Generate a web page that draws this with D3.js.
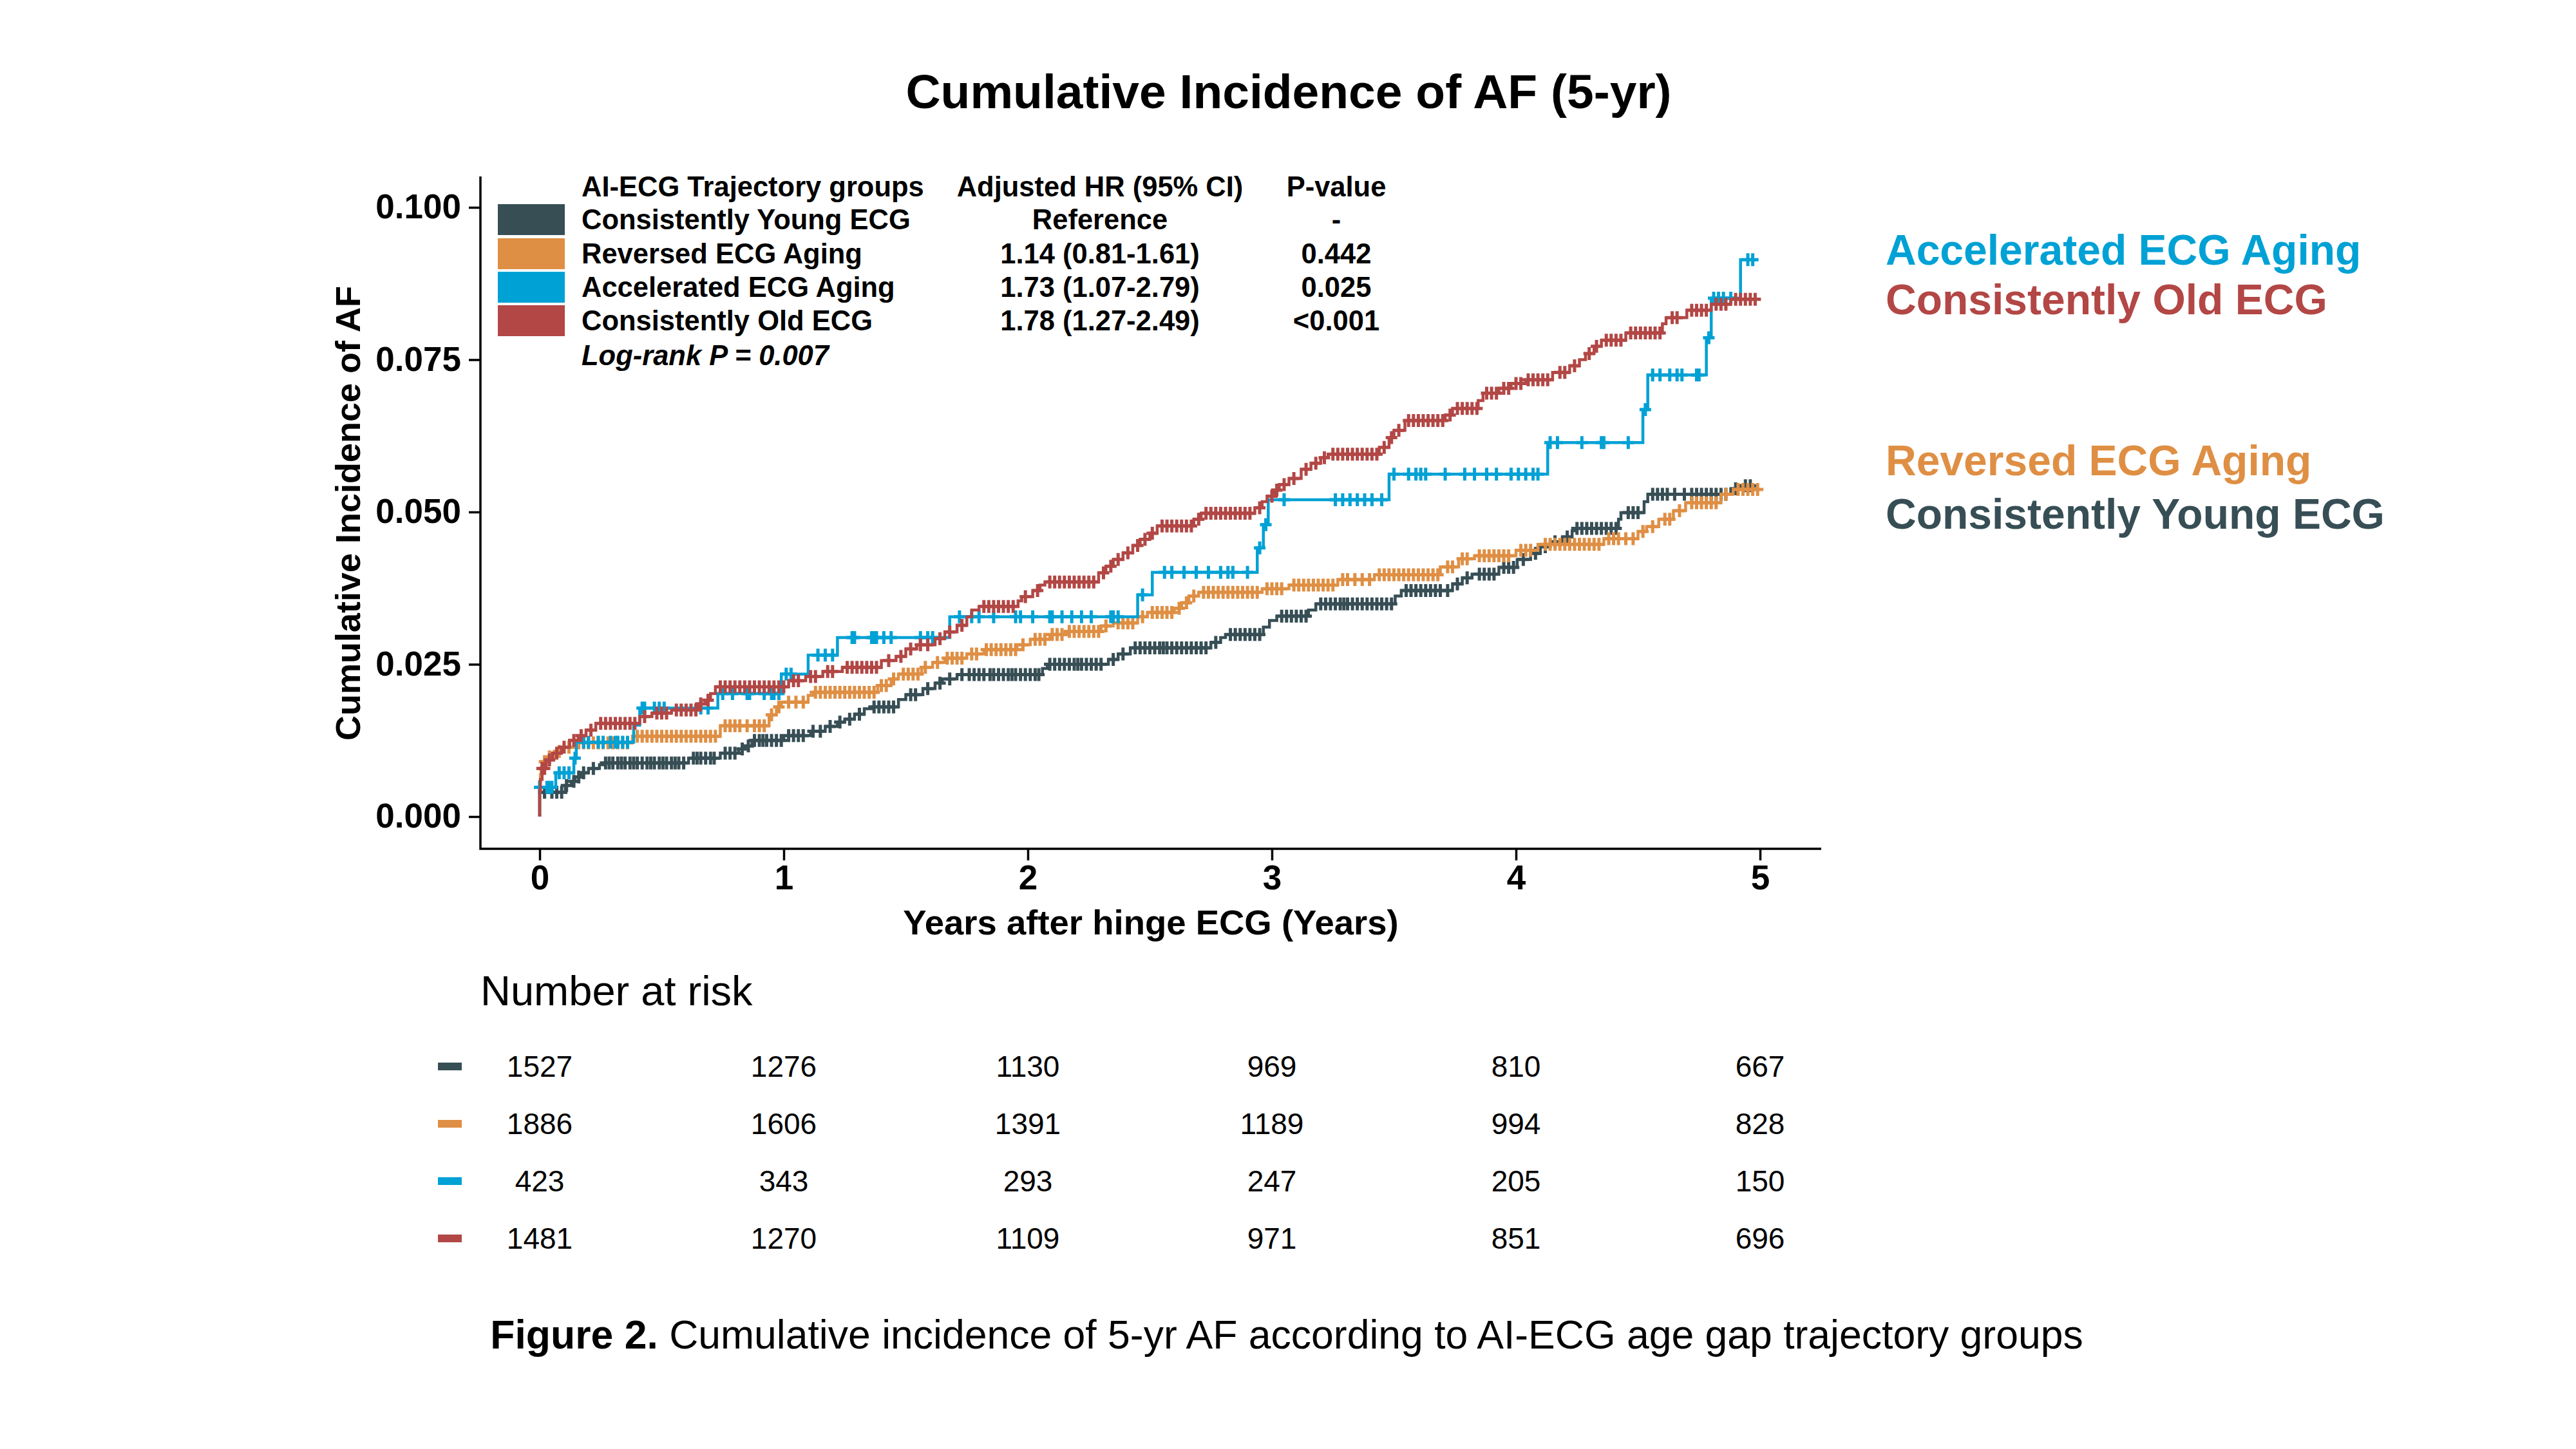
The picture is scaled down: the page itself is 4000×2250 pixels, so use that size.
<!DOCTYPE html>
<html>
<head>
<meta charset="utf-8">
<script src="https://cdn.jsdelivr.net/npm/d3@7"></script>
<style>
  body{margin:0;background:#fff}
  text{font-family:"Liberation Sans", Arial, sans-serif}
</style>
</head>
<body>
<div id="chart"></div>
<script>

// groups + colours (same order as the legend)
const groups = ['Consistently Young ECG', 'Reversed ECG Aging', 'Accelerated ECG Aging', 'Consistently Old ECG']
const colors = ['#374E55', '#DF8F44', '#00A1D5', '#B24745']
const hrText = ['Reference', '1.14 (0.81-1.61)', '1.73 (1.07-2.79)', '1.78 (1.27-2.49)']
const pText = ['-', '0.442', '0.025', '<0.001']

const xTicks = [0, 1, 2, 3, 4, 5]
const yTicks = [0, 0.025, 0.05, 0.075, 0.1]

// number at risk, one row per group, one value per x tick
const riskYoung = [1527, 1276, 1130, 969, 810, 667]
const riskReversed = [1886, 1606, 1391, 1189, 994, 828]
const riskAccel = [423, 343, 293, 247, 205, 150]
const riskOld = [1481, 1270, 1109, 971, 851, 696]

// step points [year, cumulative incidence after that time]
const youngSteps = [[0,0.0040],[0.105,0.0051],[0.13,0.0058],[0.145,0.0065],[0.168,0.0072],[0.20,0.0079],[0.245,0.0085],[0.26,0.0088],
  [0.61,0.0096],[0.74,0.0104],[0.815,0.0111],[0.84,0.0116],[0.87,0.0125],[1.0,0.0133],[1.11,0.0140],[1.17,0.0148],[1.22,0.0155],
  [1.25,0.0160],[1.29,0.0168],[1.33,0.0177],[1.36,0.0180],[1.47,0.0192],[1.50,0.0200],[1.57,0.0210],[1.62,0.0219],[1.65,0.0226],
  [1.71,0.0233],[2.06,0.0243],[2.08,0.0250],[2.33,0.0258],[2.37,0.0267],[2.42,0.0277],[2.75,0.0286],[2.79,0.0294],[2.81,0.0299],
  [2.965,0.0311],[2.99,0.0322],[3.02,0.0329],[3.15,0.0339],[3.18,0.0349],[3.505,0.0362],[3.53,0.0371],[3.74,0.0382],[3.78,0.0392],
  [3.82,0.0398],[3.93,0.0409],[4.005,0.0422],[4.06,0.0432],[4.10,0.0443],[4.14,0.0451],[4.19,0.0459],[4.23,0.0469],[4.24,0.0473],
  [4.42,0.0488],[4.43,0.0499],[4.525,0.0517],[4.54,0.0529],[4.88,0.0538],[4.92,0.0543],[4.98,0.0543]]

const reversedSteps = [[0,0.0058],[0.003,0.0069],[0.006,0.0079],[0.01,0.0090],[0.027,0.0098],[0.06,0.0107],[0.10,0.0114],[0.15,0.0121],
  [0.38,0.0132],[0.74,0.0149],[0.94,0.0167],[0.97,0.0180],[0.99,0.0188],[1.10,0.0199],[1.12,0.0204],[1.385,0.0215],[1.44,0.0226],
  [1.47,0.0234],[1.565,0.0245],[1.61,0.0253],[1.66,0.0260],[1.75,0.0267],[1.82,0.0274],[1.955,0.0282],[2.01,0.0291],[2.09,0.0299],
  [2.16,0.0304],[2.30,0.0313],[2.35,0.0318],[2.45,0.0328],[2.49,0.0335],[2.60,0.0342],[2.63,0.0351],[2.66,0.0362],[2.70,0.0368],
  [2.96,0.0374],[3.07,0.0380],[3.27,0.0389],[3.42,0.0397],[3.69,0.0410],[3.765,0.0423],[3.83,0.0428],[4.0,0.0437],[4.09,0.0447],
  [4.36,0.0456],[4.50,0.0468],[4.535,0.0476],[4.585,0.0488],[4.645,0.0502],[4.695,0.0515],[4.84,0.0529],[4.89,0.0537],[4.99,0.0537]]

const accelSteps = [[0,0.0048],[0.066,0.0072],[0.14,0.0096],[0.15,0.0122],[0.385,0.0150],[0.41,0.0178],[0.73,0.0202],[0.99,0.0234],
  [1.10,0.0265],[1.22,0.0294],[1.68,0.0328],[2.45,0.0364],[2.51,0.0401],[2.94,0.0441],[2.965,0.0479],[2.985,0.0520],[3.48,0.0562],
  [4.13,0.0614],[4.52,0.0668],[4.54,0.0725],[4.78,0.0786],[4.80,0.0851],[4.92,0.0914],[4.99,0.0914]]

const oldSteps = [[0,0.0043],[0.003,0.0061],[0.01,0.0079],[0.027,0.0093],[0.053,0.0104],[0.089,0.0114],[0.123,0.0125],[0.158,0.0133],
  [0.19,0.0142],[0.23,0.0153],[0.41,0.0164],[0.46,0.0170],[0.54,0.0175],[0.65,0.0185],[0.68,0.0191],[0.70,0.0202],[0.72,0.0213],
  [1.02,0.0223],[1.09,0.0230],[1.16,0.0238],[1.24,0.0245],[1.40,0.0256],[1.46,0.0263],[1.50,0.0275],[1.545,0.0282],[1.62,0.0292],
  [1.66,0.0303],[1.71,0.0314],[1.75,0.0328],[1.77,0.0339],[1.80,0.0345],[1.96,0.0354],[1.975,0.0361],[2.02,0.0371],[2.05,0.0380],
  [2.07,0.0385],[2.29,0.0400],[2.32,0.0411],[2.35,0.0422],[2.39,0.0433],[2.43,0.0445],[2.46,0.0455],[2.50,0.0465],[2.53,0.0477],
  [2.68,0.0488],[2.71,0.0498],[2.93,0.0507],[2.96,0.0517],[2.98,0.0526],[3.01,0.0536],[3.03,0.0545],[3.07,0.0555],[3.12,0.0570],
  [3.16,0.0580],[3.20,0.0589],[3.23,0.0595],[3.44,0.0606],[3.48,0.0622],[3.50,0.0634],[3.545,0.0650],[3.71,0.0659],[3.74,0.0670],
  [3.845,0.0683],[3.865,0.0695],[3.93,0.0703],[3.98,0.0711],[4.04,0.0717],[4.15,0.0729],[4.22,0.0740],[4.26,0.0750],[4.285,0.0760],
  [4.32,0.0772],[4.35,0.0782],[4.45,0.0794],[4.60,0.0809],[4.615,0.0819],[4.70,0.0831],[4.80,0.0841],[4.88,0.0849],[5.0,0.0849]]

// censoring times (the + marks)
const youngCensor = [0.02,0.05,0.07,0.09,0.11,0.14,0.16,0.18,0.22,0.27,0.285,0.30,0.32,0.335,0.35,0.37,0.385,0.40,0.42,0.44,0.455,0.47,
  0.49,0.505,0.52,0.54,0.555,0.57,0.59,0.63,0.645,0.66,0.68,0.70,0.715,0.76,0.78,0.80,0.83,0.855,0.88,0.90,0.915,0.93,0.95,0.97,0.99,
  1.02,1.04,1.06,1.08,1.12,1.15,1.19,1.23,1.27,1.31,1.37,1.39,1.41,1.43,1.45,1.52,1.54,1.59,1.64,1.68,1.73,1.76,1.78,1.80,1.82,1.845,
  1.86,1.88,1.90,1.92,1.935,1.95,1.97,1.99,2.01,2.03,2.045,2.09,2.11,2.13,2.15,2.17,2.19,2.205,2.22,2.24,2.26,2.28,2.30,2.35,2.39,
  2.44,2.46,2.48,2.50,2.52,2.54,2.555,2.57,2.59,2.61,2.63,2.65,2.67,2.69,2.71,2.73,2.77,2.83,2.85,2.87,2.89,2.91,2.93,2.95,3.04,3.06,
  3.08,3.10,3.12,3.14,3.20,3.22,3.24,3.26,3.28,3.295,3.31,3.33,3.35,3.37,3.39,3.41,3.43,3.45,3.47,3.49,3.55,3.57,3.59,3.61,3.63,3.65,
  3.67,3.69,3.72,3.76,3.80,3.85,3.87,3.89,3.91,3.95,3.97,3.99,4.03,4.08,4.12,4.16,4.21,4.25,4.27,4.29,4.31,4.33,4.35,4.37,4.39,4.41,
  4.46,4.48,4.50,4.56,4.58,4.60,4.62,4.65,4.69,4.72,4.74,4.76,4.78,4.80,4.82,4.84,4.86,4.90,4.94,4.96]

const reversedCensor = [0.02,0.04,0.08,0.12,0.16,0.18,0.20,0.22,0.24,0.26,0.28,0.30,0.32,0.34,0.36,0.40,0.42,0.44,0.46,0.48,0.50,0.52,
  0.54,0.56,0.58,0.60,0.62,0.64,0.66,0.68,0.70,0.72,0.76,0.78,0.80,0.82,0.85,0.88,0.90,0.92,0.95,0.98,1.02,1.05,1.08,1.13,1.15,1.17,
  1.19,1.21,1.23,1.25,1.27,1.29,1.31,1.33,1.35,1.37,1.40,1.42,1.45,1.49,1.51,1.53,1.55,1.58,1.63,1.67,1.69,1.71,1.73,1.77,1.79,1.83,
  1.85,1.87,1.89,1.91,1.93,1.95,1.98,2.03,2.05,2.07,2.10,2.12,2.14,2.17,2.19,2.21,2.23,2.25,2.27,2.29,2.32,2.37,2.39,2.41,2.43,2.47,
  2.51,2.53,2.55,2.57,2.59,2.62,2.65,2.68,2.72,2.74,2.76,2.78,2.80,2.82,2.84,2.86,2.88,2.90,2.92,2.94,2.98,3.00,3.02,3.04,3.09,3.11,
  3.13,3.15,3.17,3.19,3.21,3.23,3.25,3.29,3.31,3.34,3.37,3.40,3.44,3.46,3.48,3.50,3.52,3.54,3.56,3.58,3.60,3.62,3.64,3.66,3.68,3.72,
  3.74,3.78,3.80,3.85,3.87,3.89,3.91,3.93,3.95,3.97,4.02,4.04,4.06,4.12,4.14,4.16,4.18,4.20,4.22,4.24,4.26,4.28,4.30,4.32,4.34,4.38,
  4.40,4.42,4.45,4.48,4.52,4.56,4.61,4.63,4.67,4.72,4.74,4.76,4.78,4.80,4.82,4.86,4.91,4.93,4.95,4.97,4.99]

const accelCensor = [0.00,0.03,0.04,0.05,0.08,0.10,0.12,0.145,0.18,0.20,0.24,0.26,0.29,0.31,0.32,0.34,0.36,0.42,0.43,0.47,0.49,0.51,
  0.66,0.69,0.75,0.79,0.85,0.86,0.92,0.95,0.96,0.98,1.01,1.03,1.14,1.17,1.20,1.28,1.29,1.36,1.37,1.38,1.41,1.44,1.56,1.59,1.61,
  1.72,1.77,1.80,1.86,1.95,1.97,2.02,2.09,2.10,2.14,2.18,2.22,2.26,2.34,2.35,2.37,2.47,2.56,2.59,2.64,2.69,2.74,2.79,2.82,2.84,2.90,
  2.95,2.975,3.05,3.26,3.29,3.32,3.35,3.38,3.41,3.45,3.50,3.56,3.59,3.61,3.63,3.71,3.79,3.83,3.88,3.92,3.98,4.01,4.04,4.07,4.09,
  4.14,4.17,4.27,4.35,4.36,4.46,4.53,4.56,4.59,4.63,4.66,4.68,4.74,4.75,4.79,4.81,4.83,4.85,4.88,4.95,4.97]

const oldCensor = [0.01,0.02,0.04,0.07,0.10,0.14,0.17,0.21,0.25,0.27,0.29,0.31,0.33,0.35,0.37,0.39,0.43,0.48,0.50,0.52,0.56,0.58,0.60,
  0.62,0.64,0.66,0.69,0.74,0.76,0.78,0.80,0.82,0.84,0.86,0.88,0.90,0.92,0.94,0.96,0.98,1.00,1.04,1.06,1.11,1.13,1.18,1.20,1.26,1.28,
  1.30,1.32,1.34,1.36,1.38,1.43,1.48,1.52,1.56,1.59,1.64,1.68,1.73,1.82,1.84,1.86,1.88,1.90,1.92,1.94,1.99,2.04,2.09,2.11,2.13,2.15,
  2.17,2.19,2.21,2.23,2.25,2.27,2.31,2.34,2.37,2.41,2.45,2.48,2.51,2.55,2.57,2.59,2.61,2.63,2.65,2.67,2.70,2.73,2.75,2.77,2.79,2.81,
  2.83,2.85,2.87,2.89,2.91,2.95,3.00,3.02,3.05,3.09,3.14,3.18,3.215,3.25,3.27,3.29,3.31,3.33,3.35,3.37,3.39,3.41,3.43,3.46,3.49,3.52,
  3.56,3.58,3.60,3.62,3.64,3.66,3.68,3.70,3.73,3.76,3.78,3.80,3.82,3.84,3.88,3.90,3.92,3.95,3.97,4.00,4.02,4.05,4.07,4.09,4.11,4.13,
  4.18,4.20,4.24,4.30,4.33,4.37,4.39,4.41,4.43,4.47,4.49,4.51,4.53,4.55,4.57,4.59,4.64,4.66,4.72,4.74,4.76,4.78,4.82,4.84,4.86,4.90,
  4.92,4.94,4.96,4.98]

const stepsAll = [youngSteps, reversedSteps, accelSteps, oldSteps]
const censorAll = [youngCensor, reversedCensor, accelCensor, oldCensor]
const riskAll = [riskYoung, riskReversed, riskAccel, riskOld]

const W = 4000, H = 2250
const svg = d3.select('#chart').append('svg').attr('width', W).attr('height', H)
svg.append('rect').attr('width', W).attr('height', H).attr('fill', '#fff')

const x = d3.scaleLinear().domain([0, 5]).range([838, 2733])
const y = d3.scaleLinear().domain([0, 0.1]).range([1268, 322])

// title
svg.append('text').attr('x', 2001).attr('y', 168).attr('text-anchor', 'middle')
  .attr('font-size', 75).attr('font-weight', 'bold').text('Cumulative Incidence of AF (5-yr)')

// axis lines (ggplot classic, full panel length)
svg.append('path').attr('d', 'M746,274 V1318 H2828').attr('fill', 'none').attr('stroke', '#000').attr('stroke-width', 3.5)

let yAxis = svg.append('g').attr('transform', 'translate(746,0)')
  .call(d3.axisLeft(y).tickValues(yTicks).tickFormat(d3.format('.3f')).tickSize(18).tickPadding(12))
let xAxis = svg.append('g').attr('transform', 'translate(0,1318)')
  .call(d3.axisBottom(x).tickValues(xTicks).tickFormat(d3.format('d')).tickSize(18).tickPadding(7))

;[yAxis, xAxis].forEach(g => {
  g.select('.domain').remove()
  g.selectAll('line').attr('stroke', '#000').attr('stroke-width', 3.5)
  g.selectAll('text').attr('font-size', 53).attr('font-weight', 'bold').attr('fill', '#000')
    .attr('font-family', '"Liberation Sans", Arial, sans-serif')
})

svg.append('text').attr('transform', 'translate(559,797) rotate(-90)').attr('text-anchor', 'middle')
  .attr('font-size', 54).attr('font-weight', 'bold').text('Cumulative Incidence of AF')
svg.append('text').attr('x', 1787).attr('y', 1451).attr('text-anchor', 'middle')
  .attr('font-size', 54.5).attr('font-weight', 'bold').text('Years after hinge ECG (Years)')

// curves
const levelAt = (steps, t) => {
  let v = 0
  steps.forEach(s => { if (s[0] <= t) v = s[1] })
  return v
}
const line = d3.line().x(d => x(d[0])).y(d => y(d[1])).curve(d3.curveStepAfter)

stepsAll.forEach((steps, i) => {
  svg.append('path').datum([[0, 0]].concat(steps))
    .attr('d', line).attr('fill', 'none').attr('stroke', colors[i]).attr('stroke-width', 4.5)

  svg.append('g').selectAll('path').data(censorAll[i]).enter().append('path')
    .attr('d', t => {
      let cx = x(t), cy = y(levelAt(steps, t))
      return `M${cx - 9},${cy}H${cx + 9}M${cx},${cy - 10}V${cy + 10}`
    })
    .attr('stroke', colors[i]).attr('stroke-width', 5).attr('fill', 'none')
})

// legend table inside the panel
const rowY = [341, 394, 446, 498]
svg.append('text').attr('x', 903).attr('y', 305).attr('font-size', 43.5).attr('font-weight', 'bold').text('AI-ECG Trajectory groups')
svg.append('text').attr('x', 1708).attr('y', 305).attr('text-anchor', 'middle').attr('font-size', 43.5).attr('font-weight', 'bold').text('Adjusted HR (95% CI)')
svg.append('text').attr('x', 2075).attr('y', 305).attr('text-anchor', 'middle').attr('font-size', 43.5).attr('font-weight', 'bold').text('P-value')

groups.forEach((g, i) => {
  svg.append('rect').attr('x', 773).attr('y', rowY[i] - 24).attr('width', 104).attr('height', 48).attr('fill', colors[i])
  svg.append('text').attr('x', 903).attr('y', rowY[i] + 15).attr('font-size', 43.5).attr('font-weight', 'bold').text(g)
  svg.append('text').attr('x', 1708).attr('y', rowY[i] + 15).attr('text-anchor', 'middle').attr('font-size', 43.5).attr('font-weight', 'bold').text(hrText[i])
  svg.append('text').attr('x', 2075).attr('y', rowY[i] + 15).attr('text-anchor', 'middle').attr('font-size', 43.5).attr('font-weight', 'bold').text(pText[i])
})
svg.append('text').attr('x', 903).attr('y', 567).attr('font-size', 43.5).attr('font-weight', 'bold')
  .attr('font-style', 'italic').text('Log-rank P = 0.007')

// labels on the right
const sideLabels = [[2, 411], [3, 488], [1, 738], [0, 821]]
sideLabels.forEach(d => {
  svg.append('text').attr('x', 2928).attr('y', d[1]).attr('font-size', 66).attr('font-weight', 'bold')
    .attr('fill', colors[d[0]]).text(groups[d[0]])
})

// number at risk table
svg.append('text').attr('x', 746).attr('y', 1561).attr('font-size', 65).text('Number at risk')
const riskY = [1656, 1745, 1834, 1923]
riskAll.forEach((row, i) => {
  svg.append('rect').attr('x', 680).attr('y', riskY[i] - 6).attr('width', 37).attr('height', 12).attr('fill', colors[i])
  svg.append('g').selectAll('text').data(row).enter().append('text')
    .attr('x', (d, j) => x(xTicks[j])).attr('y', riskY[i] + 16)
    .attr('text-anchor', 'middle').attr('font-size', 46).text(d => d)
})

// caption
let cap = svg.append('text').attr('x', 1998).attr('y', 2094).attr('text-anchor', 'middle').attr('font-size', 62.5)
cap.append('tspan').attr('font-weight', 'bold').text('Figure 2.')
cap.append('tspan').text(' Cumulative incidence of 5-yr AF according to AI-ECG age gap trajectory groups')

</script>
</body>
</html>
